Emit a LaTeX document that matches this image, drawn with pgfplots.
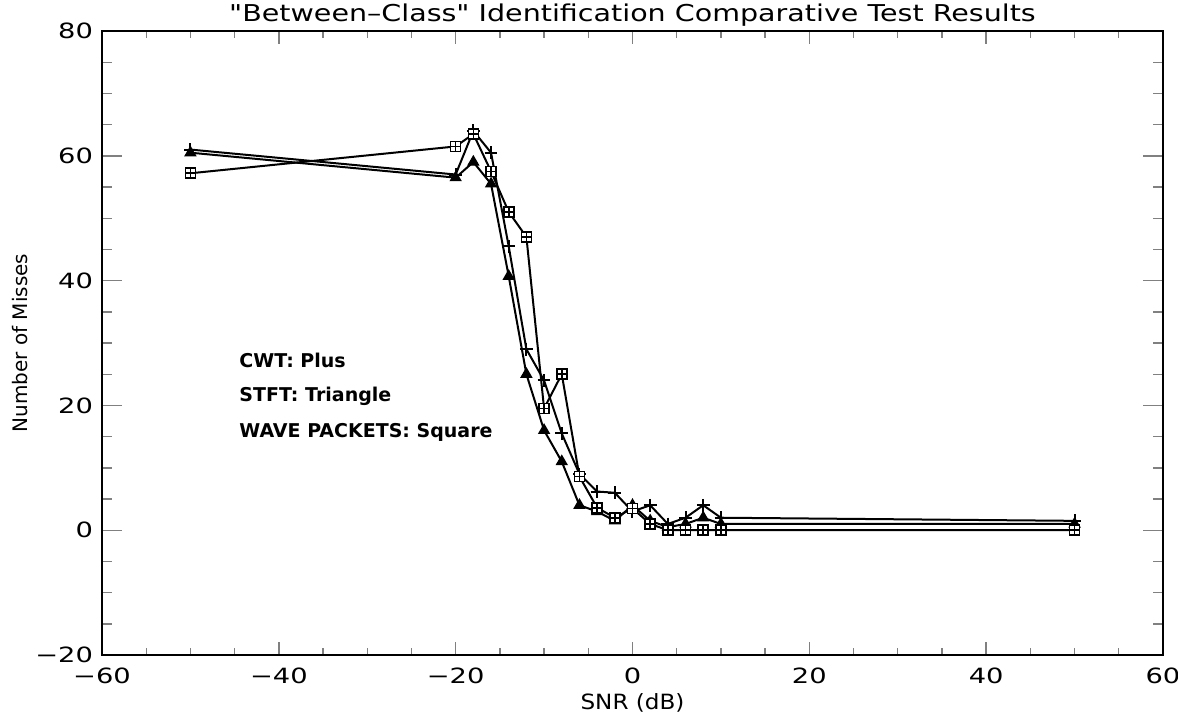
\documentclass[border=0pt]{standalone}
\usepackage{fontspec}
\setmainfont{DejaVu Sans}
\newfontfamily\titlefont{DejaVu Sans}[Ligatures=TeXOff]
\usepackage{graphicx}
\usepackage{pgfplots}
\pgfplotsset{compat=1.18}
\usepackage{pgfplotstable}

\newcommand{\W}[2]{\scalebox{#1}[1]{#2}}

\pgfdeclareplotmark{sqplus}{%
  \pgfpathrectangle{\pgfpoint{-\pgfplotmarksize}{-\pgfplotmarksize}}{\pgfpoint{2\pgfplotmarksize}{2\pgfplotmarksize}}%
  \pgfusepathqfillstroke
  \pgfpathmoveto{\pgfpoint{-\pgfplotmarksize}{0pt}}\pgfpathlineto{\pgfpoint{\pgfplotmarksize}{0pt}}%
  \pgfpathmoveto{\pgfpoint{0pt}{-\pgfplotmarksize}}\pgfpathlineto{\pgfpoint{0pt}{\pgfplotmarksize}}%
  \pgfusepathqstroke
}

\pgfplotstableread{
x     cwt   stft  wp
-50   61    60.5  57.2
-20   57    56.5  61.5
-18   64    59    63.5
-16   60.5  55.5  57.5
-14   45.5  40.7  51
-12   29    25    47
-10   24    16    19.5
-8    15.5  11    25
-6    9     4     8.6
-4    6.2   3     3.6
-2    6     1.5   2
0     3     4     3.5
2     4     1.5   1
4     1     0.5   0
6     2     1     0
8     4     2     0
10    2     1     0
50    1.5   1     0
}\datatable

\begin{document}
\begin{tikzpicture}
\begin{axis}[
  at={(0,0)}, anchor=south west,
  scale only axis,
  width=530.5pt, height=312pt,
  xmin=-60, xmax=60, ymin=-20, ymax=80,
  xtick={-60,-40,-20,0,20,40,60},
  xticklabels={\W{1.3}{−60},\W{1.3}{−40},\W{1.3}{−20},\W{1.3}{0},\W{1.3}{20},\W{1.3}{40},\W{1.3}{60}},
  ytick={-20,0,20,40,60,80},
  yticklabels={\W{1.3}{−20},\W{1.3}{0},\W{1.3}{20},\W{1.3}{40},\W{1.3}{60},\W{1.3}{80}},
  minor x tick num=3, minor y tick num=3,
  tick align=inside,
  axis line style={line width=1pt},
  xtick style={line width=0.7pt, /pgfplots/major tick length=6.5pt, /pgfplots/minor tick length=3.5pt},
  ytick style={line width=0.7pt, /pgfplots/major tick length=10pt, /pgfplots/minor tick length=5pt},
  ticklabel style={font=\fontsize{10.5}{12}\selectfont},
  xticklabel style={yshift=-3pt},
  yticklabel style={xshift=-1pt},
  every axis title shift=0pt,
  title={\W{1.23}{"Between–Class" Identification Comparative Test Results}},
  title style={font=\titlefont\fontsize{11.6}{13}\selectfont, at={(axis description cs:0.5,1)}, anchor=base, yshift=5pt, inner sep=0pt},
  xlabel={\W{1.1}{SNR (dB)}},
  xlabel style={font=\fontsize{10.5}{12}\selectfont, at={(axis description cs:0.5,-0.0769)}, anchor=center},
  ylabel={Number of Misses},
  ylabel style={font=\fontsize{10}{12}\selectfont, at={(axis description cs:-0.0773,0.5)}, anchor=center},
  clip=false,
]
\addplot[black, line width=1pt, mark=+, mark size=3.2pt, mark options={line width=1pt}] table[x=x, y=cwt] {\datatable};
\addplot[black, line width=1pt, mark=triangle*, mark size=3pt, mark options={line width=0.6pt}] table[x=x, y=stft] {\datatable};
\addplot[black, line width=1pt, mark=sqplus, mark size=2.5pt, mark options={line width=0.8pt, fill=white}] table[x=x, y=wp] {\datatable};
\node[anchor=west, inner sep=0pt, font=\bfseries\fontsize{9.5}{11}\selectfont] at (axis cs:-44.5,27.2) {CWT: Plus};
\node[anchor=west, inner sep=0pt, font=\bfseries\fontsize{9.5}{11}\selectfont] at (axis cs:-44.5,21.4) {STFT: Triangle};
\node[anchor=west, inner sep=0pt, font=\bfseries\fontsize{9.5}{11}\selectfont] at (axis cs:-44.5,15.6) {WAVE PACKETS: Square};
\end{axis}
\pgfresetboundingbox
\path[use as bounding box] (-51pt,-32pt) rectangle (538pt,327.5pt);
\end{tikzpicture}
\end{document}
